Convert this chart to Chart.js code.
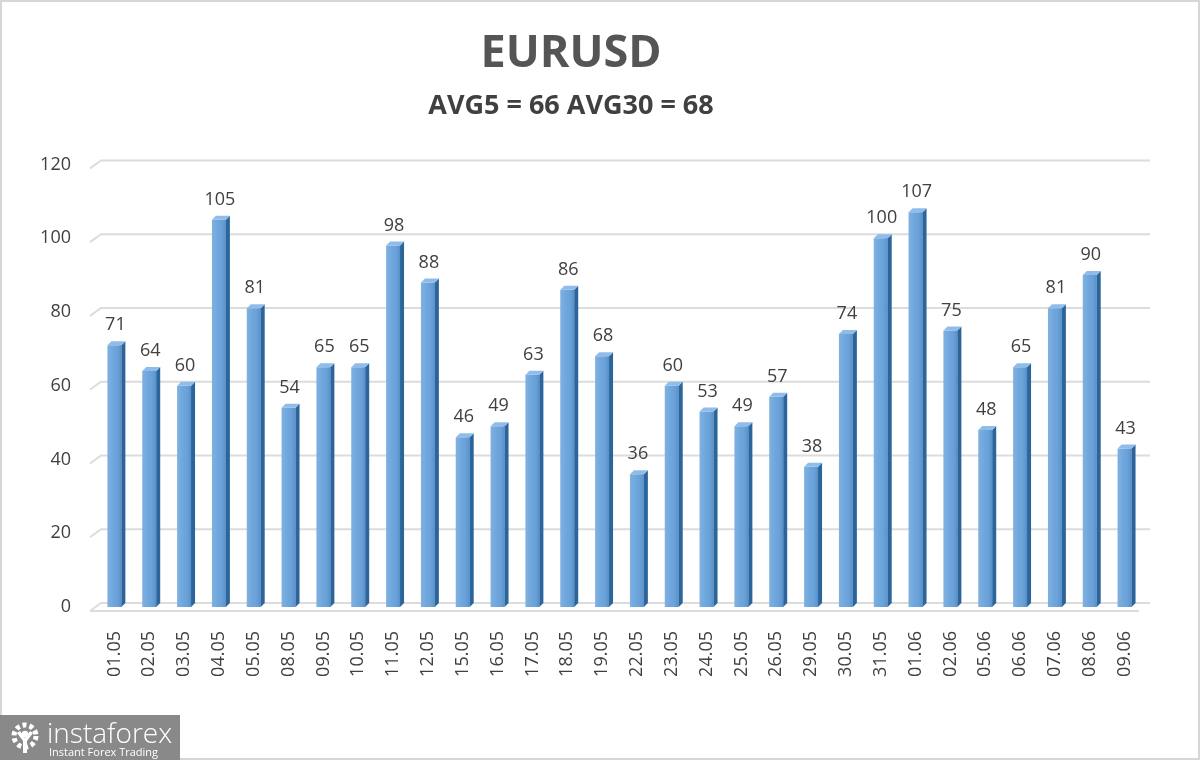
<!DOCTYPE html>
<html>
<head>
<meta charset="utf-8">
<script src="https://cdn.jsdelivr.net/npm/chart.js@4.4.1/dist/chart.umd.min.js"></script>
<style>
  html, body { margin: 0; padding: 0; background: #ffffff; }
  #wrap { position: relative; width: 1200px; height: 760px; overflow: hidden; background: #fff; }
  #frame { position: absolute; left: 0; top: 0; width: 1200px; height: 760px; box-sizing: border-box; border: 2px solid #d6d6d6; pointer-events: none; }
  #logo { position: absolute; left: 0; top: 715px; width: 180px; height: 45px; background: #898989; color: #fff; font-family: "Open Sans", "DejaVu Sans", sans-serif; }
  #logo svg { position: absolute; left: 7px; top: 6px; }
  #logo .big { position: absolute; left: 47px; top: 1px; font-size: 28px; font-weight: 300; line-height: 32px; }
  #logo .small { position: absolute; left: 49px; top: 31px; font-size: 11px; line-height: 12px; }
</style>
</head>
<body>
<div id="wrap">
  <canvas id="c" width="1200" height="760"></canvas>
  <div id="frame"></div>
  <div id="logo">
    <svg width="36" height="34" viewBox="0 0 36 34">
      <g fill="#ffffff">
        <circle cx="18" cy="15" r="11" fill="none" stroke="#fff" stroke-width="5" stroke-dasharray="4 3"/>
        <circle cx="18" cy="13" r="3.2"/>
        <path d="M10 12 L16 20 L16 32 L20 32 L20 20 L26 12 L23 10 L18 17 L13 10 Z"/>
      </g>
    </svg>
    <div class="big">instaforex</div>
    <div class="small">Instant Forex Trading</div>
  </div>
</div>
<script>
const titleText = "EURUSD";
const subtitleText = "AVG5 = 66 AVG30 = 68";
const categories = ["01.05","02.05","03.05","04.05","05.05","08.05","09.05","10.05","11.05","12.05","15.05","16.05","17.05","18.05","19.05","22.05","23.05","24.05","25.05","26.05","29.05","30.05","31.05","01.06","02.06","05.06","06.06","07.06","08.06","09.06"];
const values = [71,64,60,105,81,54,65,65,98,88,46,49,63,86,68,36,60,53,49,57,38,74,100,107,75,48,65,81,90,43];
const yTicks = [0,20,40,60,80,100,120];

const FONT = '"Open Sans", "DejaVu Sans", sans-serif';
const DEPTH = 4;

const gridPlugin = {
  id: 'grid3d',
  beforeDatasetsDraw(chart) {
    const ctx = chart.ctx;
    const ys = chart.scales.y;
    const ca = chart.chartArea;
    ctx.save();
    ctx.strokeStyle = '#dcdcdc';
    ctx.lineWidth = 2;
    yTicks.forEach(v => {
      const y = ys.getPixelForValue(v);
      ctx.beginPath();
      ctx.moveTo(ca.left - 7, y + 4);
      ctx.lineTo(ca.left + 4, y - 4);
      ctx.lineTo(1150, y - 4);
      ctx.stroke();
    });
    const y0 = ys.getPixelForValue(0);
    ctx.beginPath();
    ctx.moveTo(ca.left - 7, y0 + 4);
    ctx.lineTo(1139, y0 + 4);
    ctx.stroke();
    ctx.restore();
  }
};

const bar3dPlugin = {
  id: 'bar3d',
  afterDatasetsDraw(chart) {
    const ctx = chart.ctx;
    const meta = chart.getDatasetMeta(0);
    ctx.save();
    meta.data.forEach((el, i) => {
      const p = el.getProps(['x','y','base','width'], true);
      const l = p.x - p.width / 2, r = p.x + p.width / 2;
      ctx.fillStyle = '#2b659c';
      ctx.beginPath();
      ctx.moveTo(r, p.y);
      ctx.lineTo(r + DEPTH, p.y - DEPTH);
      ctx.lineTo(r + DEPTH, p.base - DEPTH);
      ctx.lineTo(r, p.base);
      ctx.closePath();
      ctx.fill();
      ctx.fillStyle = '#8fbce9';
      ctx.beginPath();
      ctx.moveTo(l, p.y);
      ctx.lineTo(r, p.y);
      ctx.lineTo(r + DEPTH, p.y - DEPTH);
      ctx.lineTo(l + DEPTH, p.y - DEPTH);
      ctx.closePath();
      ctx.fill();
      const g = ctx.createLinearGradient(l, 0, r, 0);
      g.addColorStop(0, 'rgba(255,255,255,0.18)');
      g.addColorStop(0.5, 'rgba(255,255,255,0.05)');
      g.addColorStop(1, 'rgba(0,40,90,0.15)');
      ctx.fillStyle = g;
      ctx.fillRect(l, p.y, p.width, p.base - p.y);
      ctx.fillStyle = '#404040';
      ctx.font = '18px ' + FONT;
      ctx.textAlign = 'center';
      ctx.textBaseline = 'bottom';
      ctx.fillText(String(values[i]), p.x + 1, p.y - DEPTH - 7);
    });
    ctx.restore();
  }
};

new Chart(document.getElementById('c'), {
  type: 'bar',
  data: {
    labels: categories,
    datasets: [{
      data: values,
      backgroundColor: '#64a0da',
      borderWidth: 0,
      categoryPercentage: 1,
      barPercentage: 0.4
    }]
  },
  options: {
    responsive: false,
    animation: false,
    devicePixelRatio: 1,
    layout: { padding: { top: 27, right: 58, left: 0, bottom: 0 } },
    plugins: {
      legend: { display: false },
      tooltip: { enabled: false },
      title: {
        display: true,
        text: titleText,
        color: '#555555',
        font: { family: FONT, size: 45, weight: 'bold' },
        padding: { top: 0, bottom: 9 }
      },
      subtitle: {
        display: true,
        text: subtitleText,
        color: '#404040',
        font: { family: FONT, size: 27, weight: 'bold' },
        padding: { top: 0, bottom: 42 }
      }
    },
    scales: {
      x: {
        grid: { display: false, drawTicks: false },
        border: { display: false },
        ticks: {
          color: '#404040',
          font: { family: FONT, size: 18 },
          minRotation: 90,
          maxRotation: 90,
          autoSkip: false,
          padding: 24
        },
        afterFit(scale) { scale.height = 153; }
      },
      y: {
        min: 0,
        max: 120,
        afterBuildTicks(scale) { scale.ticks = yTicks.map(v => ({ value: v })); },
        grid: { display: false, drawTicks: false },
        border: { display: false },
        ticks: {
          color: '#404040',
          font: { family: FONT, size: 18 },
          padding: 26
        },
        afterFit(scale) { scale.width = 97; }
      }
    }
  },
  plugins: [gridPlugin, bar3dPlugin]
});
</script>
</body>
</html>
